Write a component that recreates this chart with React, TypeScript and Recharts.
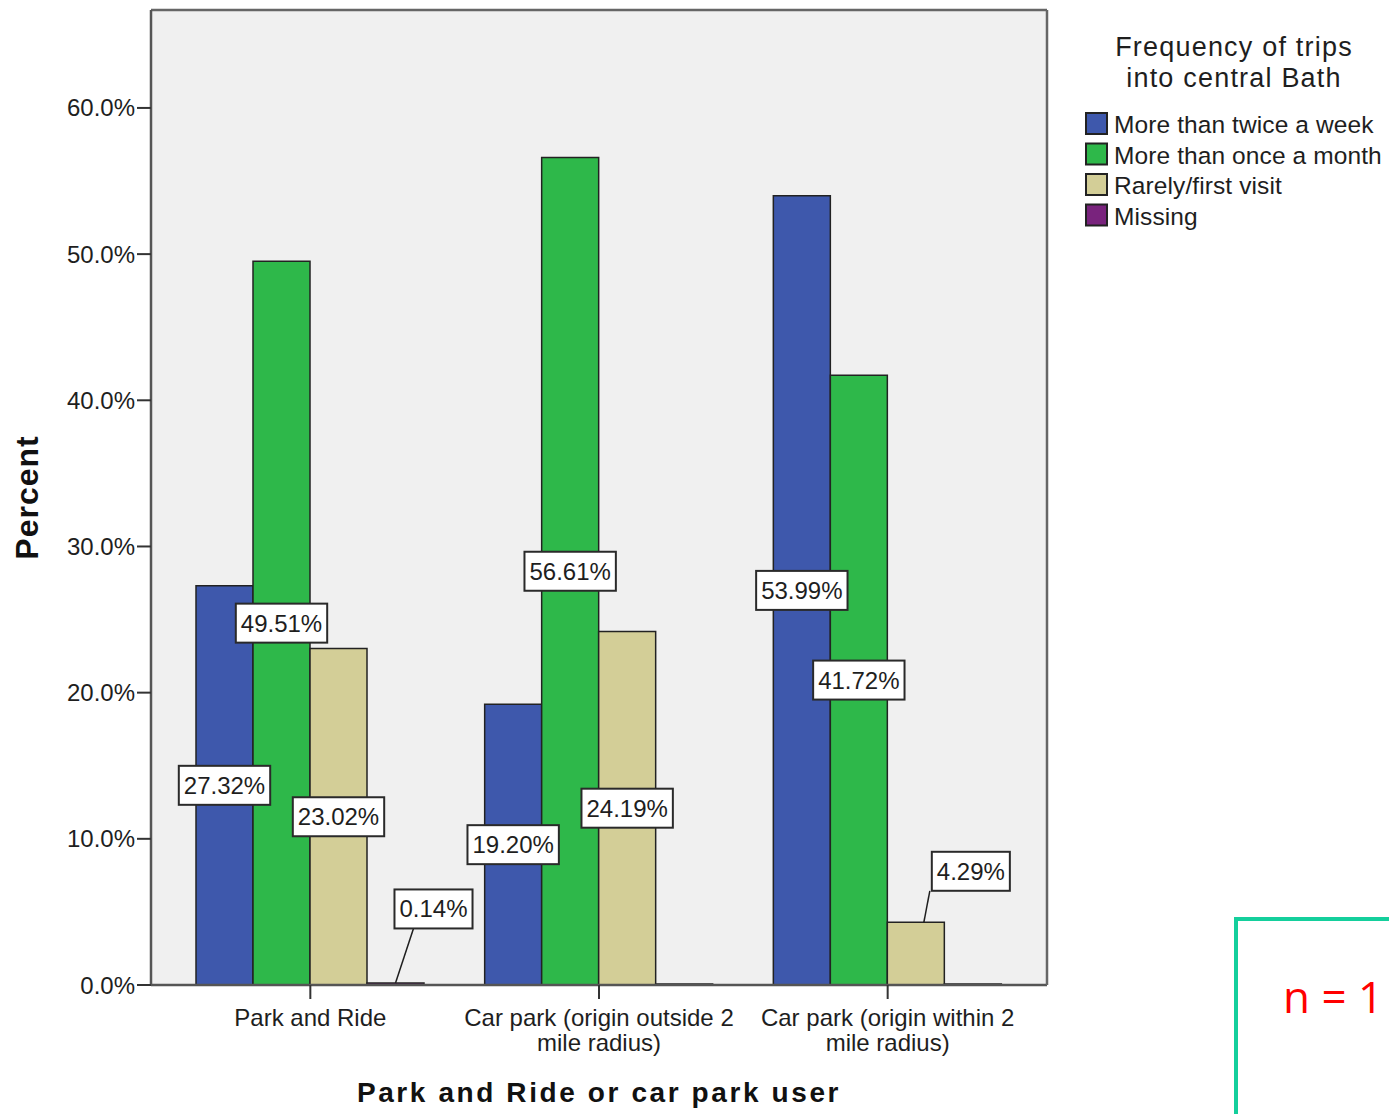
import React from 'react';
import { BarChart, Bar, XAxis, YAxis, CartesianGrid } from 'recharts';

// categories and values
const categories = [
  'Park and Ride',
  'Car park (origin outside 2 mile radius)',
  'Car park (origin within 2 mile radius)',
];
const tickLines = [
  ['Park and Ride'],
  ['Car park (origin outside 2', 'mile radius)'],
  ['Car park (origin within 2', 'mile radius)'],
];
const twiceWeek = [27.32, 19.2, 53.99];
const onceMonth = [49.51, 56.61, 41.72];
const rarely = [23.02, 24.19, 4.29];
const missing = [0.14, 0, 0];
const yTicks = [0, 10, 20, 30, 40, 50, 60];

const series = [
  { key: 'twiceWeek', name: 'More than twice a week', color: '#3e58ac' },
  { key: 'onceMonth', name: 'More than once a month', color: '#2eb84a' },
  { key: 'rarely', name: 'Rarely/first visit', color: '#d3ce97' },
  { key: 'missing', name: 'Missing', color: '#79237d' },
];

const data = categories.map((name, i) => ({
  name,
  twiceWeek: twiceWeek[i],
  onceMonth: onceMonth[i],
  rarely: rarely[i],
  missing: missing[i],
}));

const FONT = '"Liberation Sans", Arial, sans-serif';
const INK = '#1e1e1e';

// callout offsets for the short bars (box centre relative to bar top centre)
const CALLOUTS: Record<string, { dx: number; dy: number; sx: number; ex: number }> = {
  'missing-0': { dx: 38, dy: -74, sx: 0, ex: -20 },
  'rarely-2': { dx: 55, dy: -51, sx: 8, ex: -41 },
};

const CHAR_W: Record<string, number> = { '.': 0.278, '%': 0.889 };
function textWidth(s: string, size: number) {
  let w = 0;
  for (const c of s) w += CHAR_W[c] ?? 0.556;
  return w * size;
}

function makeLabel(seriesKey: string) {
  return (props: any) => {
    const { x, y, width, height, value, index } = props;
    if (!value) return null;
    const text = `${Number(value).toFixed(2)}%`;
    const bw = textWidth(text, 24) + 10;
    const bh = 39;
    const cx = x + width / 2;
    const callout = CALLOUTS[`${seriesKey}-${index}`];
    let bx = cx;
    let by = y + height / 2;
    let leader = null;
    if (callout) {
      bx = cx + callout.dx;
      by = y + callout.dy;
      leader = (
        <line
          x1={cx + callout.sx}
          y1={y}
          x2={bx + callout.ex}
          y2={by + bh / 2}
          stroke={INK}
          strokeWidth={1.5}
        />
      );
    }
    return (
      <g>
        {leader}
        <rect
          x={bx - bw / 2}
          y={by - bh / 2}
          width={bw}
          height={bh}
          fill="#ffffff"
          stroke="#2a2a2a"
          strokeWidth={2}
        />
        <text
          x={bx}
          y={by + 8.5}
          textAnchor="middle"
          fontFamily={FONT}
          fontSize={24}
          fill={INK}
        >
          {text}
        </text>
      </g>
    );
  };
}

function XTick(props: any) {
  const { x, y, index } = props;
  const lines = tickLines[index] ?? [];
  return (
    <text x={x} y={y} textAnchor="middle" fontFamily={FONT} fontSize={24} fill={INK}>
      {lines.map((l, i) => (
        <tspan key={i} x={x} dy={25}>
          {l}
        </tspan>
      ))}
    </text>
  );
}

export default function App() {
  return (
    <div style={{ position: 'relative', width: 1389, height: 1114, background: '#fff', overflow: 'hidden' }}>
      <style>{'body{margin:0}'}</style>
      <BarChart
        width={1389}
        height={1114}
        data={data}
        margin={{ top: 9, right: 341, bottom: 0, left: 0 }}
        barCategoryGap={30}
        barGap={0}
      >
        <CartesianGrid horizontal={false} vertical={false} fill="#f0f0f0" />
        <XAxis
          dataKey="name"
          height={129}
          padding={{ left: 15, right: 15 }}
          tickSize={14}
          tick={<XTick />}
          interval={0}
          axisLine={{ stroke: '#555', strokeWidth: 2.5 }}
          tickLine={{ stroke: '#333', strokeWidth: 2 }}
          label={{
            content: ({ viewBox }: any) => (
              <text
                x={viewBox.x + viewBox.width / 2}
                y={viewBox.y + 117}
                textAnchor="middle"
                fontFamily={FONT}
                fontWeight="bold"
                fontSize={28}
                letterSpacing={2.6}
                fill="#111"
              >
                Park and Ride or car park user
              </text>
            ),
          }}
        />
        <XAxis
          xAxisId="top"
          dataKey="name"
          orientation="top"
          height={1}
          tick={false}
          tickLine={false}
          axisLine={{ stroke: '#666', strokeWidth: 2.5 }}
        />
        <YAxis
          width={151}
          domain={[0, 66.7]}
          ticks={yTicks}
          tickSize={14}
          tickFormatter={(v: number) => `${v.toFixed(1)}%`}
          tick={{ fontFamily: FONT, fontSize: 24, fill: INK }}
          axisLine={{ stroke: '#555', strokeWidth: 2.5 }}
          tickLine={{ stroke: '#333', strokeWidth: 2 }}
          allowDataOverflow
          label={{
            content: ({ viewBox }: any) => {
              const cy = viewBox.y + viewBox.height / 2;
              return (
                <text
                  x={38}
                  y={cy}
                  transform={`rotate(-90 38 ${cy})`}
                  textAnchor="middle"
                  fontFamily={FONT}
                  fontWeight="bold"
                  fontSize={32}
                  letterSpacing={1}
                  fill="#111"
                >
                  Percent
                </text>
              );
            },
          }}
        />
        <YAxis
          yAxisId="right"
          orientation="right"
          width={1}
          domain={[0, 1]}
          tick={false}
          tickLine={false}
          axisLine={{ stroke: '#666', strokeWidth: 2.5 }}
        />
        {series.map((s) => (
          <Bar
            key={s.key}
            dataKey={s.key}
            name={s.name}
            fill={s.color}
            stroke="#222"
            strokeWidth={1.5}
            minPointSize={1}
            isAnimationActive={false}
            label={makeLabel(s.key)}
          />
        ))}
      </BarChart>

      <svg
        width={1389}
        height={1114}
        style={{ position: 'absolute', left: 0, top: 0, pointerEvents: 'none' }}
      >
        <g fontFamily={FONT} fill={INK}>
          <text x={1234} y={56} textAnchor="middle" fontSize={27} letterSpacing={1.2}>
            Frequency of trips
          </text>
          <text x={1234} y={87} textAnchor="middle" fontSize={27} letterSpacing={1.2}>
            into central Bath
          </text>
          {series.map((s, i) => (
            <g key={s.key}>
              <rect
                x={1086}
                y={113 + i * 30.5}
                width={21}
                height={21}
                fill={s.color}
                stroke="#222"
                strokeWidth={2}
              />
              <text x={1114} y={133 + i * 30.5} fontSize={24.5} letterSpacing={0.1}>
                {s.name}
              </text>
            </g>
          ))}
        </g>
        <rect x={1236} y={919} width={200} height={260} fill="none" stroke="#14cf9c" strokeWidth={4} />
        <text x={1283} y={1013} fontFamily='"Open Sans", "Noto Sans", sans-serif' fontSize={44} fill="#ff0000">
          n = 1
        </text>
      </svg>
    </div>
  );
}
